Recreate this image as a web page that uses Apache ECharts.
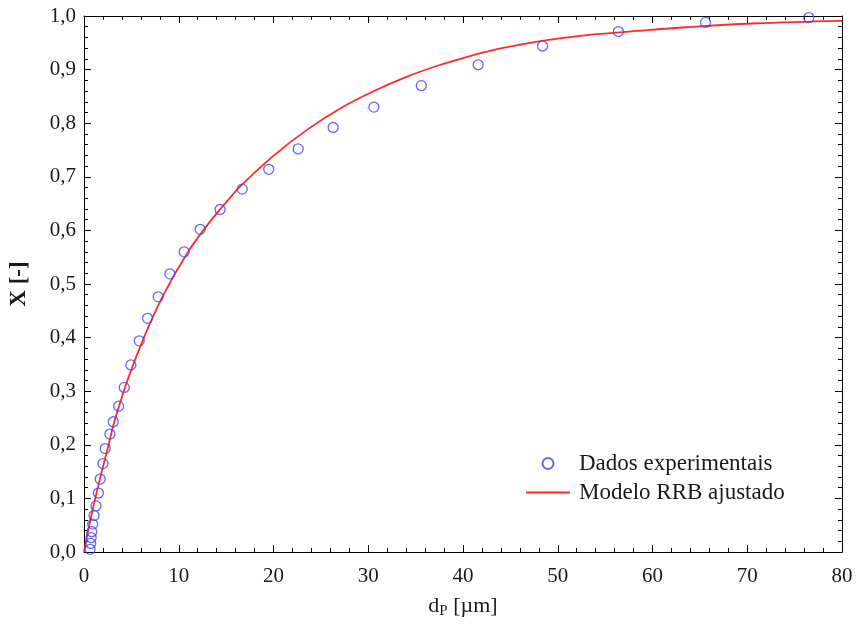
<!DOCTYPE html>
<html>
<head>
<meta charset="utf-8">
<script src="https://cdn.jsdelivr.net/npm/echarts@6/dist/echarts.min.js"></script>
<style>
html,body{margin:0;padding:0;background:#fff;}
#c{width:856px;height:626px;}
</style>
</head>
<body>
<div id="c"></div>
<script>
// Experimental data: particle diameter dP [µm], cumulative fraction X [-]
var expD = [0.64, 0.70, 0.75, 0.82, 0.92, 1.06, 1.27, 1.52, 1.71, 2.00, 2.24, 2.74, 3.09, 3.66, 4.25, 4.95, 5.83, 6.71, 7.83, 9.06, 10.57, 12.26, 14.36, 16.7, 19.5, 22.6, 26.3, 30.6, 35.6, 41.6, 48.4, 56.4, 65.6, 76.5];
var expX = [0.005, 0.016, 0.027, 0.038, 0.052, 0.068, 0.086, 0.110, 0.136, 0.165, 0.193, 0.220, 0.243, 0.272, 0.307, 0.349, 0.394, 0.436, 0.476, 0.519, 0.560, 0.602, 0.639, 0.677, 0.714, 0.752, 0.792, 0.830, 0.870, 0.909, 0.944, 0.971, 0.988, 0.997];

// Fitted RRB model curve
var modD = [0, 0.8, 1.93, 2.49, 3.16, 4.54, 6.18, 8.28, 10.99, 13.2, 15.13, 16.54, 20.05, 23.57, 27.08, 30.6, 34.1, 37.6, 40.1, 43.6, 47.1, 50.6, 54.1, 57.6, 63.6, 70.6, 80];
var modX = [0, 0.070, 0.154, 0.192, 0.240, 0.318, 0.394, 0.476, 0.560, 0.614, 0.655, 0.683, 0.740, 0.788, 0.828, 0.860, 0.887, 0.909, 0.922, 0.938, 0.950, 0.959, 0.966, 0.971, 0.979, 0.986, 0.991];

var xTicks = [0, 10, 20, 30, 40, 50, 60, 70, 80];
var yTicks = ['0,0','0,1','0,2','0,3','0,4','0,5','0,6','0,7','0,8','0,9','1,0'];

var legendNames = ['Dados experimentais', 'Modelo RRB ajustado'];

var expData = expD.map(function (d, i) { return [d, expX[i]]; });
var modData = modD.map(function (d, i) { return [d, modX[i]]; });

var FONT = 'Liberation Serif';
var blue = '#4040ff';
var red = '#ff2a2a';
var txt = '#1a1a1a';

function axisCommon() {
  return {
    axisLine: { show: true, onZero: false, lineStyle: { color: '#000', width: 1 } },
    axisTick: { show: true, inside: true, length: 7, lineStyle: { color: '#000', width: 1 } },
    minorTick: { show: true, splitNumber: 5, length: 4, lineStyle: { color: '#000', width: 1 } },
    splitLine: { show: false },
    minorSplitLine: { show: false }
  };
}

var chart = echarts.init(document.getElementById('c'));
var option = {
  animation: false,
  backgroundColor: '#fff',
  grid: { left: 83, right: 14, top: 16, bottom: 74, containLabel: false },
  legend: {
    orient: 'vertical',
    left: 521,
    top: 447,
    itemWidth: 44,
    itemHeight: 11,
    itemGap: 6,
    data: [
      { name: legendNames[0] },
      { name: legendNames[1], icon: 'path://M0,0 L44,0 L44,2 L0,2 Z' }
    ],
    textStyle: { fontFamily: FONT, fontSize: 23, color: txt, padding: [0, 0, 0, 4] }
  },
  xAxis: [
    Object.assign(axisCommon(), {
      type: 'value', min: 0, max: 80, interval: 10, position: 'bottom',
      name: '{a|d}{s|P}{a| [µm]}', nameLocation: 'middle', nameGap: 42,
      nameTextStyle: { rich: { a: { fontFamily: FONT, fontSize: 22, color: txt }, s: { fontFamily: FONT, fontSize: 15, color: txt, verticalAlign: 'bottom', padding: [10, 0, 0, 0] } } },
      axisLabel: { fontFamily: FONT, fontSize: 21, color: txt, margin: 14,
        formatter: function (v) { return xTicks.indexOf(v) >= 0 ? String(v) : ''; } }
    }),
    Object.assign(axisCommon(), {
      type: 'value', min: 0, max: 80, interval: 10, position: 'top',
      axisLabel: { show: false }
    })
  ],
  yAxis: [
    Object.assign(axisCommon(), {
      type: 'value', min: 0, max: 1, interval: 0.1, position: 'left',
      name: 'X [-]', nameLocation: 'middle', nameGap: 53, nameRotate: 90,
      nameTextStyle: { fontFamily: FONT, fontSize: 23, fontWeight: 'bold', color: txt },
      axisLabel: { fontFamily: FONT, fontSize: 21, color: txt, margin: 8,
        formatter: function (v) { return yTicks[Math.round(v * 10)]; } }
    }),
    Object.assign(axisCommon(), {
      type: 'value', min: 0, max: 1, interval: 0.1, position: 'right',
      axisLabel: { show: false }
    })
  ],
  series: [
    {
      name: legendNames[0],
      type: 'scatter',
      data: expData,
      symbol: 'circle',
      symbolSize: 10,
      itemStyle: { color: 'rgba(255,255,255,0)', borderColor: blue, borderWidth: 1.3 },
      z: 3
    },
    {
      name: legendNames[1],
      type: 'line',
      data: modData,
      smooth: 0.4,
      symbol: 'none',
      lineStyle: { color: red, width: 1.8 },
      itemStyle: { color: red },
      z: 2
    }
  ]
};
chart.setOption(option);
</script>
</body>
</html>
